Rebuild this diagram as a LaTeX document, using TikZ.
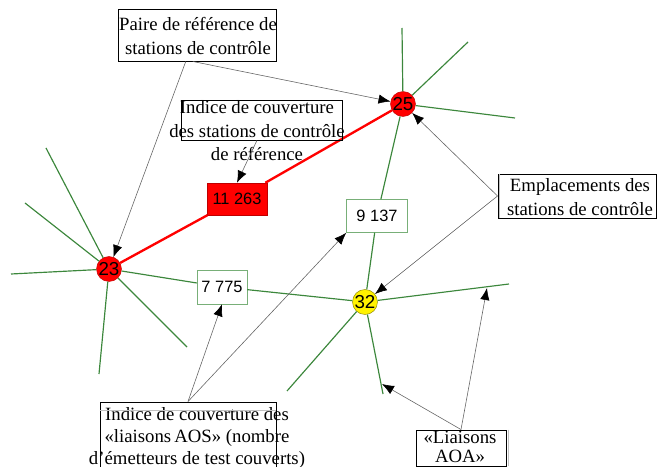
\documentclass[tikz,border=0pt]{standalone}
\usepackage{fontspec}
\setmainfont{Liberation Serif}
\newfontfamily\numfont{Liberation Sans}
\usepackage{tikz}
\usetikzlibrary{arrows.meta}
\definecolor{linkgreen}{RGB}{60,135,60}
\definecolor{boxgreen}{RGB}{120,175,120}
\definecolor{ptrgray}{RGB}{100,100,100}

\begin{document}
\begin{tikzpicture}[x=0.3mm, y=-0.3mm,
	station/.style={circle, draw=red!75!black, fill=red, minimum size=7.5mm, inner sep=0, font=\numfont\fontsize{16}{16}\selectfont},
	numbox/.style={draw=boxgreen, fill=white, inner sep=0, font=\numfont\fontsize{14}{14}\selectfont},
	notebox/.style={draw, line width=0.8pt, inner sep=0},
	notetext/.style={font=\fontsize{16}{20}\selectfont, align=center, inner sep=0},
	link/.style={linkgreen, line width=1pt},
	pointer/.style={ptrgray, line width=0.5pt, -{Latex[length=3.6mm, width=2.8mm, color=black]}}
]
\useasboundingbox (0,0) rectangle (658,467);

% stations
\node[station] (s25) at (403,104) {25};
\node[station] (s23) at (109,269) {23};
\node[station, draw=olive, fill=yellow] (s32) at (365,302) {32};

% coverage values
\node[numbox, draw=red!75!black, fill=red, minimum width=18mm, minimum height=9.6mm] (v11263) at (237,199) {11 263};
\node[numbox, minimum width=18.3mm, minimum height=9.9mm] (v9137) at (377,216) {9 137};
\node[numbox, minimum width=15mm, minimum height=10.2mm] (v7775) at (222,287) {7 775};

% free ends of the links
\coordinate (a1) at (402,28);
\coordinate (a2) at (468,42);
\coordinate (a3) at (515,118);
\coordinate (b1) at (46,148);
\coordinate (b2) at (25,203);
\coordinate (b3) at (11,274);
\coordinate (b4) at (99,374);
\coordinate (b5) at (187,347);
\coordinate (c1) at (509,284);
\coordinate (c2) at (383,394);
\coordinate (c3) at (287,391);
\coordinate (c4) at (382,384);
\coordinate (c5) at (487,288);

\foreach \e in {a1,a2,a3} \draw[link] (s25) -- (\e);
\foreach \e in {b1,b2,b3,b4,b5} \draw[link] (s23) -- (\e);
\foreach \e in {c1,c2,c3} \draw[link] (s32) -- (\e);
\draw[link] (s25) -- (v9137) -- (s32);
\draw[link] (s23) -- (v7775) -- (s32);
\draw[red, line width=2pt] (s23) -- (v11263) -- (s25);

% notes
\node[notebox, minimum width=47.4mm, minimum height=15.6mm] (paire) at (197,35) {};
\node[notetext] (paireT) at (198,36) {Paire de référence de\\ stations de contrôle};
\node[notebox, minimum width=48.3mm, minimum height=12mm] (indice) at (262,120) {};
\node[notetext] (indiceT) at (257,131) {Indice de couverture\\des stations de contrôle\\de référence};
\node[notebox, minimum width=47.4mm, minimum height=13.2mm] (empl) at (577,196) {};
\node[notetext] (emplT) at (580,197) {Emplacements des\\stations de contrôle};
\node[notebox, minimum width=52.8mm, minimum height=19.8mm] (aos) at (188,435) {};
\node[notetext, font=\fontsize{16}{18.5}\selectfont] (aosT) at (197,438) {Indice de couverture des\\«liaisons\,AOS» (nombre\\d’émetteurs de test couverts)};
\node[notebox, minimum width=27mm, minimum height=10.8mm] (aoa) at (461,448) {};
\node[notetext, font=\fontsize{16}{16.5}\selectfont] (aoaT) at (460,447) {«Liaisons\\AOA»};

\draw[ptrgray!40] ([yshift=-2.7mm]aos.north west) -- ([yshift=-2.7mm]aos.north east);
\draw[ptrgray!40] ([xshift=0.6mm]empl.north west) -- ([xshift=0.6mm]empl.south west);
\draw[ptrgray!40] ([xshift=0.6mm]aoa.north east) -- ([xshift=0.6mm]aoa.south east);

% pointers
\draw[pointer] (paire.-113) -- (s23);
\draw[pointer] (paire.-99) -- (s25);
\draw[pointer] (indice.-104) -- (v11263.north);
\draw[pointer] (empl.west) -- (s25);
\draw[pointer] (empl.west) -- (s32);
\draw[pointer] (aos.north) -- (v7775.south);
\draw[pointer] (aos.north) -- (v9137.south west);
\draw[pointer] (aoa.north) -- (c4);
\draw[pointer] (aoa.north) -- (c5);
\end{tikzpicture}
\end{document}
